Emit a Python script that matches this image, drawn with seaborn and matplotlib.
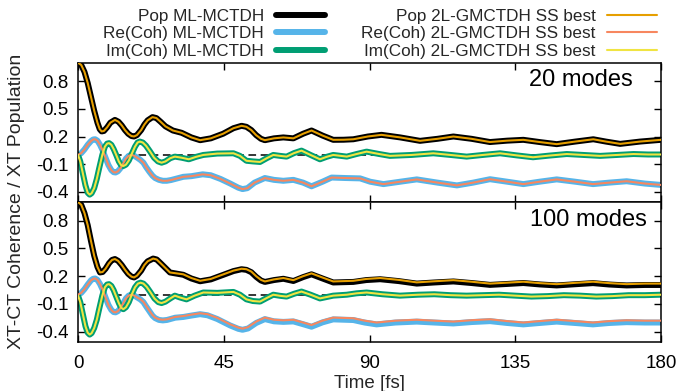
import matplotlib
matplotlib.use("Agg")
import matplotlib.pyplot as plt
import seaborn as sns
import numpy as np
import pandas as pd
from matplotlib.lines import Line2D

# ---------------- data ----------------
# 20 modes panel
t_pop20 = [0, 1, 2, 3, 4, 5, 6, 6.7, 7.3, 8, 9, 10, 11.4, 12.5, 13.5, 14.5, 15.5, 16.5, 17.3, 18.2, 19.5,
           20.5, 21.5, 23, 24.2, 25.5, 27, 29.3, 32, 35, 37.7, 41, 44.8, 48, 50.5, 52, 53.5, 55, 56.5, 57.7,
           60.5, 63.4, 66.5, 69.5, 72.1, 75.5, 78.8, 82, 85, 89.5, 93.7, 99.5, 105.6, 111, 115.9, 121.5,
           127.2, 132.5, 137.5, 142.5, 147.8, 153.5, 159.1, 163, 167.4, 173.5, 180]
pop20 = [1.00, 0.975, 0.90, 0.78, 0.63, 0.48, 0.35, 0.28, 0.255, 0.26, 0.30, 0.35, 0.38, 0.36, 0.32, 0.27,
         0.23, 0.205, 0.20, 0.215, 0.27, 0.33, 0.375, 0.41, 0.40, 0.36, 0.31, 0.265, 0.24, 0.19, 0.16, 0.18,
         0.23, 0.29, 0.316, 0.305, 0.27, 0.215, 0.175, 0.16, 0.18, 0.19, 0.18, 0.23, 0.265, 0.21, 0.164,
         0.165, 0.17, 0.20, 0.218, 0.19, 0.153, 0.175, 0.20, 0.175, 0.14, 0.155, 0.164, 0.14, 0.117, 0.145,
         0.17, 0.145, 0.12, 0.145, 0.164]

t_re20 = [0, 1, 2, 3, 4, 4.7, 5.3, 6, 6.8, 7.6, 8.5, 9.4, 10.3, 11, 11.6, 12.3, 13.2, 14, 14.8, 15.7,
          16.6, 17.4, 18.3, 19.3, 20.2, 21, 22, 23, 23.8, 25, 26.2, 27.4, 28.7, 30, 32.5, 35, 38.5, 41,
          44, 47, 49.5, 50.8, 52.3, 54.5, 57.7, 60.5, 63.4, 66.5, 69.5, 72.1, 75.5, 78.3, 82.5, 87.1, 90.2,
          94.3, 99.5, 104.6, 111, 117, 122, 127.2, 132.5, 137.5, 142.5, 147.8, 153.5, 159, 164, 169.4,
          175, 180]
re20 = [0.0, 0.02, 0.06, 0.11, 0.15, 0.168, 0.17, 0.155, 0.11, 0.05, -0.03, -0.11, -0.165, -0.187, -0.19,
        -0.178, -0.14, -0.09, -0.04, -0.008, 0.0, -0.01, -0.03, -0.055, -0.084, -0.13, -0.18, -0.225,
        -0.25, -0.27, -0.28, -0.28, -0.272, -0.26, -0.237, -0.23, -0.21, -0.22, -0.26, -0.31, -0.355,
        -0.37, -0.36, -0.30, -0.25, -0.27, -0.28, -0.27, -0.30, -0.34, -0.29, -0.245, -0.25, -0.254,
        -0.29, -0.316, -0.29, -0.265, -0.30, -0.33, -0.30, -0.263, -0.29, -0.316, -0.29, -0.265, -0.29,
        -0.316, -0.30, -0.285, -0.31, -0.325]

t_im20 = [0, 0.7, 1.5, 2.3, 3, 3.6, 4.2, 5, 5.8, 6.5, 7.5, 8.3, 9, 9.6, 10.3, 11, 11.8, 12.6, 13.3, 14,
          14.8, 15.7, 16.7, 17.6, 18.4, 19.1, 20, 21, 22.2, 23.5, 24.7, 25.8, 27, 28.5, 29.9, 32, 34.2,
          36.5, 38.7, 43, 48, 50, 52, 54, 56.2, 58.3, 60.3, 62.4, 64.4, 66.7, 69, 71.8, 74.7, 76.8, 78.8,
          83, 86, 89.1, 93, 96.3, 103, 109.7, 115, 120, 125, 130.3, 135.5, 140.5, 145.5, 150.9, 156, 161.2,
          166.5, 171.5, 176, 180]
im20 = [0.0, -0.07, -0.20, -0.33, -0.41, -0.43, -0.415, -0.36, -0.26, -0.15, 0.0, 0.09, 0.123, 0.128,
        0.11, 0.065, 0.0, -0.07, -0.11, -0.12, -0.105, -0.06, 0.02, 0.09, 0.135, 0.145, 0.135, 0.10, 0.04,
        -0.03, -0.07, -0.084, -0.07, -0.035, -0.018, -0.03, -0.047, -0.02, 0.0, 0.015, 0.018, -0.01,
        -0.063, -0.07, -0.076, -0.035, 0.0, -0.01, -0.018, 0.02, 0.047, 0.0, -0.047, -0.02, 0.0, -0.018,
        0.01, 0.036, 0.01, -0.01, 0.0, 0.018, 0.0, -0.018, 0.0, 0.018, -0.005, -0.025, -0.007, 0.01, 0.0,
        -0.01, 0.0, 0.01, 0.005, 0.005]

# 100 modes panel
t_pop100 = [0, 1, 2, 3, 4, 5, 6, 6.8, 7.6, 8.5, 9.6, 10.5, 11.4, 12.4, 13.5, 14.5, 15.5, 16.5, 17.3, 18.2,
            19.5, 20.5, 21.5, 23.2, 24.3, 25.5, 28.4, 32.5, 35, 37.7, 41, 44.9, 48, 50.5, 52, 53.5, 55,
            56.5, 57.7, 60.5, 63.4, 66.5, 69.5, 72.1, 75.5, 78.8, 85, 89, 93.3, 99, 104.6, 110, 115.9,
            121.5, 127.2, 132.5, 137.5, 142.5, 147.8, 153.5, 159, 164, 169.4, 175, 180]
pop100_gm = [1.00, 0.97, 0.88, 0.75, 0.58, 0.42, 0.30, 0.24, 0.245, 0.28, 0.34, 0.375, 0.385, 0.365, 0.32,
             0.27, 0.225, 0.195, 0.186, 0.205, 0.26, 0.32, 0.36, 0.39, 0.38, 0.34, 0.24, 0.22, 0.18, 0.15,
             0.17, 0.22, 0.26, 0.28, 0.275, 0.25, 0.20, 0.16, 0.143, 0.165, 0.18, 0.157, 0.20, 0.23, 0.185,
             0.143, 0.15, 0.17, 0.18, 0.16, 0.133, 0.145, 0.157, 0.14, 0.12, 0.13, 0.14, 0.125, 0.114,
             0.128, 0.14, 0.125, 0.114, 0.12, 0.12]
pop100_ml = [1.00, 0.97, 0.88, 0.75, 0.58, 0.42, 0.30, 0.24, 0.245, 0.28, 0.34, 0.375, 0.385, 0.365, 0.32,
             0.27, 0.225, 0.195, 0.186, 0.205, 0.26, 0.32, 0.36, 0.39, 0.38, 0.34, 0.24, 0.215, 0.175,
             0.145, 0.165, 0.215, 0.255, 0.275, 0.268, 0.243, 0.193, 0.153, 0.138, 0.158, 0.172, 0.148,
             0.19, 0.22, 0.175, 0.132, 0.138, 0.158, 0.167, 0.147, 0.12, 0.132, 0.143, 0.126, 0.106, 0.116,
             0.126, 0.111, 0.1, 0.113, 0.125, 0.11, 0.1, 0.105, 0.105]

t_re100 = [0, 1, 2, 3, 4, 4.7, 5.3, 6, 6.8, 7.6, 8.5, 9.4, 10.3, 11, 11.6, 12.3, 13.2, 14, 14.8, 15.7,
           16.6, 17.4, 18.3, 19.3, 20.2, 21, 22, 23, 23.8, 25, 26.2, 27.5, 30, 32.5, 35, 37.7, 40, 43, 47,
           49.5, 50.8, 52.5, 55, 57.7, 60.5, 63.4, 66.5, 69.5, 72.1, 75.5, 78.8, 85, 88.5, 92.2, 98, 104.6,
           110, 115.9, 121.5, 127.2, 132.5, 137.5, 142.5, 147.8, 153.5, 159, 164, 169.4, 175, 180]
re100_gm = [0.0, 0.02, 0.06, 0.11, 0.155, 0.172, 0.175, 0.16, 0.115, 0.055, -0.03, -0.11, -0.165, -0.187,
            -0.19, -0.178, -0.14, -0.09, -0.04, -0.008, 0.0, -0.01, -0.03, -0.05, -0.077, -0.12, -0.17,
            -0.22, -0.247, -0.265, -0.27, -0.265, -0.24, -0.23, -0.215, -0.20, -0.21, -0.25, -0.32, -0.355,
            -0.366, -0.35, -0.29, -0.247, -0.27, -0.276, -0.27, -0.30, -0.327, -0.28, -0.247, -0.254, -0.28,
            -0.30, -0.28, -0.27, -0.28, -0.29, -0.275, -0.265, -0.285, -0.30, -0.285, -0.27, -0.285, -0.30,
            -0.285, -0.276, -0.28, -0.28]
re100_ml = [0.0, 0.02, 0.06, 0.11, 0.155, 0.172, 0.175, 0.16, 0.115, 0.055, -0.03, -0.11, -0.165, -0.187,
            -0.19, -0.178, -0.14, -0.09, -0.04, -0.008, 0.0, -0.01, -0.03, -0.052, -0.08, -0.124, -0.175,
            -0.226, -0.252, -0.272, -0.277, -0.272, -0.248, -0.24, -0.225, -0.21, -0.222, -0.262, -0.332,
            -0.368, -0.378, -0.364, -0.305, -0.263, -0.287, -0.293, -0.288, -0.318, -0.345, -0.298, -0.266,
            -0.273, -0.3, -0.32, -0.3, -0.29, -0.3, -0.31, -0.295, -0.285, -0.305, -0.32, -0.305, -0.29,
            -0.305, -0.32, -0.305, -0.296, -0.3, -0.3]

t_im100 = [0, 0.7, 1.5, 2.3, 3, 3.6, 4.2, 5, 5.8, 6.5, 7.5, 8.3, 9, 9.6, 10.3, 11, 11.8, 12.6, 13.3, 14,
           14.8, 15.7, 16.7, 17.6, 18.5, 19.3, 20.2, 21.2, 22.3, 23.6, 24.8, 25.8, 27, 28.5, 29.9, 31.5,
           33.5, 36, 38.7, 43, 48, 50, 52, 54, 56.2, 58.3, 60.3, 62.4, 64.4, 66.7, 69, 71.8, 74.7, 78.8, 83,
           86, 89.1, 94, 99.4, 105, 110, 115, 120, 125, 130, 135, 140, 145, 150, 155, 160, 165, 170, 175, 180]
im100 = [-0.01, -0.08, -0.21, -0.34, -0.41, -0.43, -0.415, -0.36, -0.27, -0.16, -0.01, 0.08, 0.11, 0.114,
         0.095, 0.05, -0.02, -0.09, -0.14, -0.156, -0.135, -0.08, 0.01, 0.08, 0.12, 0.13, 0.12, 0.085, 0.03,
         -0.04, -0.08, -0.09, -0.075, -0.04, -0.01, -0.03, -0.05, -0.01, 0.024, 0.02, 0.03, 0.0, -0.05,
         -0.068, -0.074, -0.035, 0.0, -0.012, -0.02, 0.01, 0.034, 0.0, -0.04, -0.01, 0.0, 0.015, 0.024,
         0.005, -0.01, 0.0, 0.005, -0.005, -0.01, -0.005, 0.0, -0.01, -0.02, -0.015, -0.005, -0.01, -0.02,
         -0.015, -0.005, -0.005, 0.0]

labels = ["Pop ML-MCTDH", "Re(Coh) ML-MCTDH", "Im(Coh) ML-MCTDH",
          "Pop 2L-GMCTDH SS best", "Re(Coh) 2L-GMCTDH SS best", "Im(Coh) 2L-GMCTDH SS best"]
colors = ["#000000", "#56B4E9", "#009E73", "#E69F00", "#F7875F", "#F0E442"]
panel_titles = ["20 modes", "100 modes"]
xticks = [0, 45, 90, 135, 180]
yticks = [0.8, 0.5, 0.2, -0.1, -0.4]
ref_level = 0.0
ref_start = 11

# ---------------- style ----------------
sns.set_theme(style="ticks")
plt.rcParams["font.family"] = ["Liberation Sans", "DejaVu Sans"]
plt.rcParams["axes.linewidth"] = 1.1

fig = plt.figure(figsize=(6.78, 3.91), dpi=100)
W, H = 678, 391
left, right = 78 / W, 661 / W
ax_top = fig.add_axes([left, 1 - 202 / H, right - left, (202 - 62.7) / H])
ax_bot = fig.add_axes([left, 1 - 342 / H, right - left, (342 - 202) / H])

panels = [
    (ax_top, [(t_pop20, pop20), (t_re20, re20), (t_im20, im20)],
             [(t_pop20, pop20), (t_re20, re20), (t_im20, im20)]),
    (ax_bot, [(t_pop100, pop100_ml), (t_re100, re100_ml), (t_im100, im100)],
             [(t_pop100, pop100_gm), (t_re100, re100_gm), (t_im100, im100)]),
]

for i, (ax, ml, gm) in enumerate(panels):
    ax.plot([ref_start, 180], [ref_level, ref_level], color="black", lw=1.1,
            dashes=(5, 3), zorder=1)
    for k, (t, v) in enumerate(ml):
        sns.lineplot(x=t, y=v, ax=ax, color=colors[k], lw=4.3, estimator=None,
                     zorder=2, solid_capstyle="round", solid_joinstyle="round")
    for k, (t, v) in enumerate(gm):
        sns.lineplot(x=t, y=v, ax=ax, color=colors[3 + k], lw=1.5, estimator=None,
                     zorder=3, solid_capstyle="round", solid_joinstyle="round")
    ax.set_xlim(0, 180)
    ax.set_ylim(-0.51, 1.0)
    ax.set_xticks(xticks)
    ax.set_yticks(yticks)
    ax.set_yticklabels([f"{y:.1f}" for y in yticks])
    ax.tick_params(direction="in", length=5, width=1, top=True, right=True,
                   labelsize=13.5, pad=7, colors="black")
    ax.tick_params(axis="x", pad=9)
    for s in ax.spines.values():
        s.set_visible(True)
        s.set_color("black")
    ax.set_xlabel("")
    ax.set_ylabel("")

ax_top.tick_params(labelbottom=False)
ax_top.text(0.952, 0.876, panel_titles[0], transform=ax_top.transAxes,
            ha="right", va="center", fontsize=17, color="black")
ax_bot.text(0.976, 0.871, panel_titles[1], transform=ax_bot.transAxes,
            ha="right", va="center", fontsize=17, color="black")

fig.text(369.5 / W, 1 - 387.5 / H, "Time [fs]", ha="center", va="baseline", fontsize=13.5)
fig.text(17 / W, 1 - 201 / H, "XT-CT Coherence / XT Population", rotation=90,
         ha="center", va="center", fontsize=14)

handles = [Line2D([], [], color=colors[k], lw=(4.3 if k < 3 else 1.5)) for k in range(6)]
fig.legend(handles, labels, ncol=2, markerfirst=False, frameon=False,
           loc="upper right", bbox_to_anchor=(657 / W, 1 - 8.5 / H),
           fontsize=12.3, handlelength=2.9, handletextpad=0.7,
           columnspacing=2.1, labelspacing=0.16, borderpad=0, borderaxespad=0)

fig.savefig("out.png", dpi=100)
